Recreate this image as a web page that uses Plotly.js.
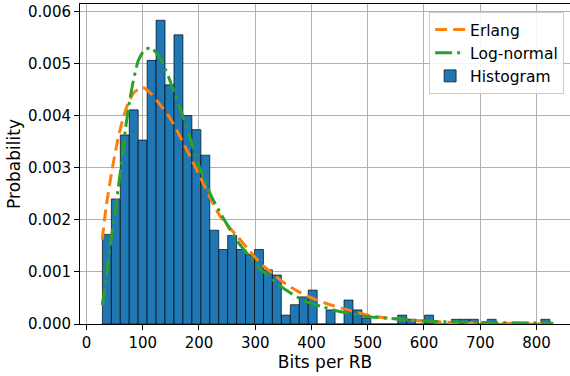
<!DOCTYPE html>
<html>
<head>
<meta charset="utf-8">
<script src="https://cdn.plot.ly/plotly-3.0.1.min.js"></script>
<style>
html,body{margin:0;padding:0;background:#fff;}
#chart{width:570px;height:376px;}
</style>
</head>
<body>
<div id="chart"></div>
<script>
// Histogram bin centres (bits per RB) and heights (probability density)
const binCenters = [36.3, 52.2, 68.1, 84.0, 99.9, 115.8, 131.7, 147.6, 163.5, 179.4,
  195.4, 211.3, 227.2, 243.1, 259.0, 274.9, 290.8, 306.7, 322.6, 338.5,
  354.5, 370.4, 386.3, 402.2, 418.1, 434.0, 449.9, 465.8, 481.7, 497.6,
  513.6, 529.5, 545.4, 561.3, 577.2, 593.1, 609.0, 624.9, 640.8, 656.7,
  672.7, 688.6, 704.5, 720.4, 736.3, 752.2, 768.1, 784.0, 799.9, 815.8];
const binWidth = 15.91;
const histValues = [0.00172, 0.00240, 0.00363, 0.00411, 0.00353, 0.00506, 0.00583, 0.00459, 0.00555, 0.00400,
  0.00373, 0.00324, 0.00180, 0.00143, 0.00170, 0.00143, 0.00133, 0.00143, 0.00104, 0.00094,
  0.00017, 0.00037, 0.00052, 0.00065, 0, 0.00027, 0, 0.00046, 0.00027, 0.00011,
  0, 0, 0, 0.00017, 0.00009, 0, 0.00017, 0, 0, 0.00009,
  0.00009, 0.00009, 0, 0.00009, 0, 0, 0, 0, 0, 0.00009];

// Erlang fit curve
const erlangX = [28, 35, 45, 55, 65, 75, 85, 100, 115, 130, 150, 170, 185, 200, 217, 235, 250, 270, 290, 310,
  330, 350, 375, 400, 430, 465, 505, 550, 600, 650, 700, 750, 800, 830];
const erlangY = [0.00162, 0.00225, 0.00293, 0.00350, 0.00395, 0.00426, 0.00445, 0.00454, 0.00442, 0.00422,
  0.00393, 0.00352, 0.00320, 0.00287, 0.00249, 0.00211, 0.00190, 0.00166, 0.00140, 0.00116,
  0.00098, 0.00080, 0.00063, 0.00050, 0.00038, 0.00027, 0.00016, 0.00010, 0.000055, 0.00003,
  0.000017, 0.000009, 0.000005, 0.000003];

// Log-normal fit curve
const lognX = [28, 35, 41, 50, 56, 63, 70, 77, 83, 92, 103, 115, 130, 146, 158, 170, 182, 194, 208, 223,
  246, 270, 282, 305, 330, 352, 388, 420, 446, 470, 493, 535, 570, 620, 700, 790, 830];
const lognY = [0.00036, 0.00085, 0.00142, 0.00206, 0.00257, 0.00315, 0.00380, 0.00430, 0.00465, 0.00505,
  0.00526, 0.00530, 0.00512, 0.00474, 0.00438, 0.00403, 0.00365, 0.00322, 0.00281, 0.00243,
  0.00198, 0.00156, 0.00140, 0.00110, 0.00086, 0.00067, 0.00044, 0.00033, 0.00025, 0.00020,
  0.00015, 0.00011, 0.00008, 0.00005, 0.00003, 0.00002, 0.000015];

const xTicks = [0, 100, 200, 300, 400, 500, 600, 700, 800];
const yTicks = [0, 0.001, 0.002, 0.003, 0.004, 0.005, 0.006];
const xTitle = 'Bits per RB';
const yTitle = 'Probability';

const font = "DejaVu Sans, sans-serif";

const traces = [
  {
    type: 'scatter', mode: 'lines', name: 'Erlang',
    x: erlangX, y: erlangY,
    line: {color: '#ff7f0e', width: 3, dash: '12px,6px', shape: 'spline', smoothing: 0.6}
  },
  {
    type: 'scatter', mode: 'lines', name: 'Log-normal',
    x: lognX, y: lognY,
    line: {color: '#2ca02c', width: 3, dash: '17px,5px,3px,5px', shape: 'spline', smoothing: 0.6}
  },
  {
    type: 'bar', name: 'Histogram',
    x: binCenters, y: histValues, width: binWidth,
    marker: {color: '#1f77b4', line: {color: 'rgba(0,0,0,0.85)', width: 0.8}}
  }
];

const layout = {
  width: 570, height: 376,
  margin: {l: 80, r: 0, t: 4, b: 52},
  paper_bgcolor: '#fff', plot_bgcolor: '#fff',
  font: {family: font, color: '#000', size: 15},
  bargap: 0,
  showlegend: true,
  legend: {
    x: 0.988, y: 0.975, xanchor: 'right', yanchor: 'top',
    bgcolor: 'rgba(255,255,255,0.85)', bordercolor: '#cccccc', borderwidth: 1,
    font: {family: font, size: 15.5, color: '#000'},
    tracegroupgap: 0
  },
  xaxis: {
    range: [-11.5, 859.6],
    tickvals: xTicks, ticktext: xTicks.map(String),
    ticks: 'outside', ticklen: 5, tickwidth: 1, tickcolor: '#000',
    showline: true, linecolor: '#000', linewidth: 1, mirror: true,
    showgrid: true, gridcolor: '#b0b0b0', gridwidth: 1,
    zeroline: false,
    tickfont: {family: font, size: 15, color: '#000'},
    title: {text: xTitle, font: {family: font, size: 17, color: '#000'}, standoff: 0}
  },
  yaxis: {
    range: [0, 0.006142],
    tickvals: yTicks, ticktext: yTicks.map(v => v.toFixed(3)),
    ticks: 'outside', ticklen: 5, tickwidth: 1, tickcolor: '#000',
    showline: true, linecolor: '#000', linewidth: 1, mirror: false,
    showgrid: true, gridcolor: '#b0b0b0', gridwidth: 1,
    zeroline: false,
    tickfont: {family: font, size: 15, color: '#000'},
    title: {text: yTitle, font: {family: font, size: 17, color: '#000'}, standoff: 3}
  }
};

Plotly.newPlot('chart', traces, layout, {displayModeBar: false, staticPlot: true});
</script>
</body>
</html>
